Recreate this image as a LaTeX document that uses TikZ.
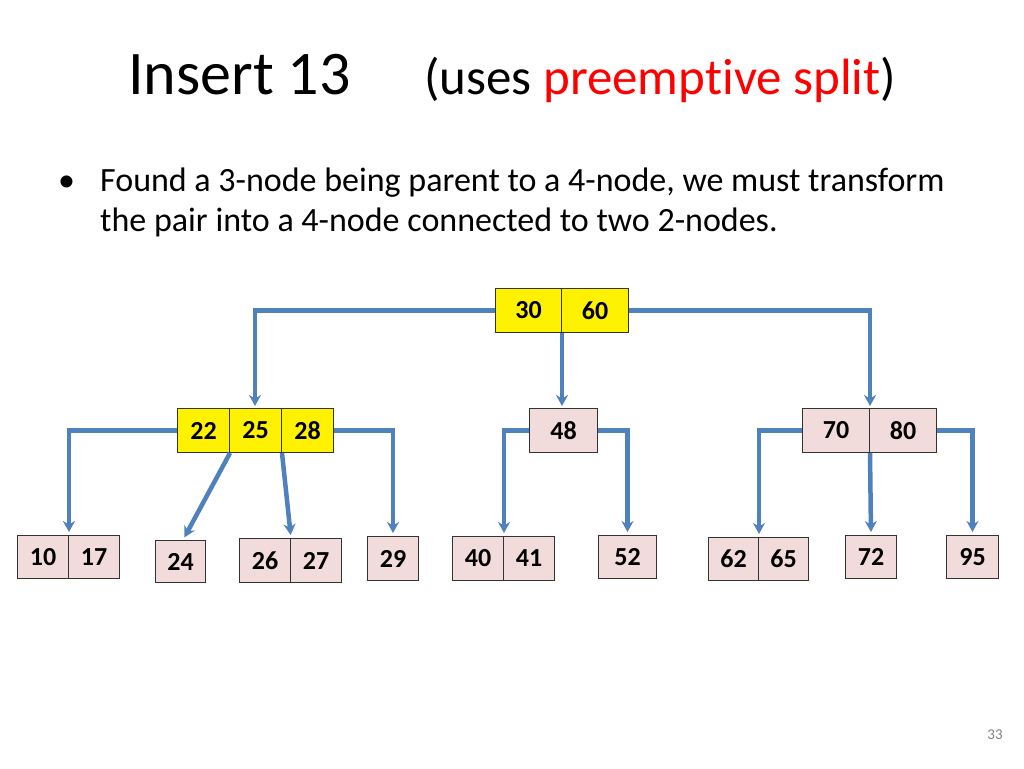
\documentclass[tikz,border=0pt]{standalone}
\usepackage{fontspec}
\setmainfont{Carlito}[Ligatures=NoCommon]
\usetikzlibrary{arrows.meta}
\definecolor{ablue}{HTML}{4F81BD}
\definecolor{pinkc}{HTML}{F2DCDB}
\begin{document}
\begin{tikzpicture}[x=1pt,y=-1pt,
  cell/.style={draw=black!80,line width=1pt,minimum height=44pt,inner sep=0pt,font=\fontsize{26}{26}\selectfont\bfseries,anchor=north west},
  yc/.style={cell,fill=yellow},
  pc/.style={cell,fill=pinkc},
  btxt/.style={anchor=base west,font=\fontsize{34}{34}\selectfont},
  arr/.style={draw=ablue,line width=4.5pt,-{Stealth[length=11pt,width=12pt]}}]
\useasboundingbox (0,0) rectangle (1024,768);
\node[anchor=base west,font=\fontsize{62}{62}\selectfont,inner sep=0pt] (t1) at (128,94) {Insert 13};
\node[anchor=base west,font=\fontsize{51}{51}\selectfont,inner sep=0pt] (t2) at (424,94) {(uses \textcolor{red}{preemptive split})};
\node[btxt,inner sep=0pt] (b) at (58,191) {•};
\node[btxt,inner sep=0pt] (bt1) at (100,191) {Found a 3-node being parent to a 4-node, we must transform};
\node[btxt,inner sep=0pt] (bt2) at (100,231) {the pair into a 4-node connected to two 2-nodes.};
\node[anchor=base,font=\fontsize{15}{15}\selectfont,text=gray] (pg) at (995,739) {33};
% root
\node[yc,minimum width=66pt] (r1) at (495,288) {30};
\node[yc,minimum width=67pt] (r2) at (561,288) {60};
% level 2
\node[yc,minimum width=52pt] (a1) at (177,408) {22};
\node[yc,minimum width=52pt] (a2) at (229,408) {25};
\node[yc,minimum width=52pt] (a3) at (281,408) {28};
\node[pc,minimum width=68pt] (m) at (529,408) {48};
\node[pc,minimum width=67pt] (c1) at (802,408) {70};
\node[pc,minimum width=67pt] (c2) at (869,408) {80};
% leaves
\node[pc,minimum width=51pt,minimum height=43pt] (l1) at (17,535) {10};
\node[pc,minimum width=51pt,minimum height=43pt] (l2) at (68,535) {17};
\node[pc,minimum width=50pt,minimum height=42pt] (l3) at (155,540) {24};
\node[pc,minimum width=51pt] (l4) at (239,538) {26};
\node[pc,minimum width=51pt] (l5) at (290,538) {27};
\node[pc,minimum width=51pt] (l6) at (367,536) {29};
\node[pc,minimum width=51pt] (l7) at (452,536) {40};
\node[pc,minimum width=51pt] (l8) at (503,536) {41};
\node[pc,minimum width=58pt,minimum height=43pt] (l9) at (598,535) {52};
\node[pc,minimum width=50pt,minimum height=43pt] (l10) at (708,537) {62};
\node[pc,minimum width=50pt,minimum height=43pt] (l11) at (758,537) {65};
\node[pc,minimum width=51pt,minimum height=43pt] (l12) at (845,535) {72};
\node[pc,minimum width=52pt,minimum height=43pt] (l13) at (946,535) {95};
\coordinate (ra) at (255,408);
% connectors
\draw[arr,shorten >=2pt] (r1.west) -| (ra);
\draw[arr,shorten >=2pt] (r1.south east) -- (a2.north east -| r1.south east);
\draw[arr,shorten >=2pt] (r2.east) -| (c1.north east);
\draw[arr,shorten >=3pt] (a1.west) -| (l1.north east);
\draw[arr,shorten >=3pt] (a1.south east) -- (l3.north west -| 183,0);
\draw[arr,shorten >=3pt] (a2.south east) -- (l4.north east);
\draw[arr,shorten >=3pt] (a3.east) -| (l6.north);
\draw[arr,shorten >=3pt] (m.west) -| (l7.north east);
\draw[arr,shorten >=3pt] (m.east) -| (l9.north);
\draw[arr,shorten >=3pt] (c1.west) -| (l10.north east);
\draw[arr,shorten >=3pt] (c1.south east) -- (l12.north);
\draw[arr,shorten >=3pt] (c2.east) -| (l13.north);
\end{tikzpicture}
\end{document}
